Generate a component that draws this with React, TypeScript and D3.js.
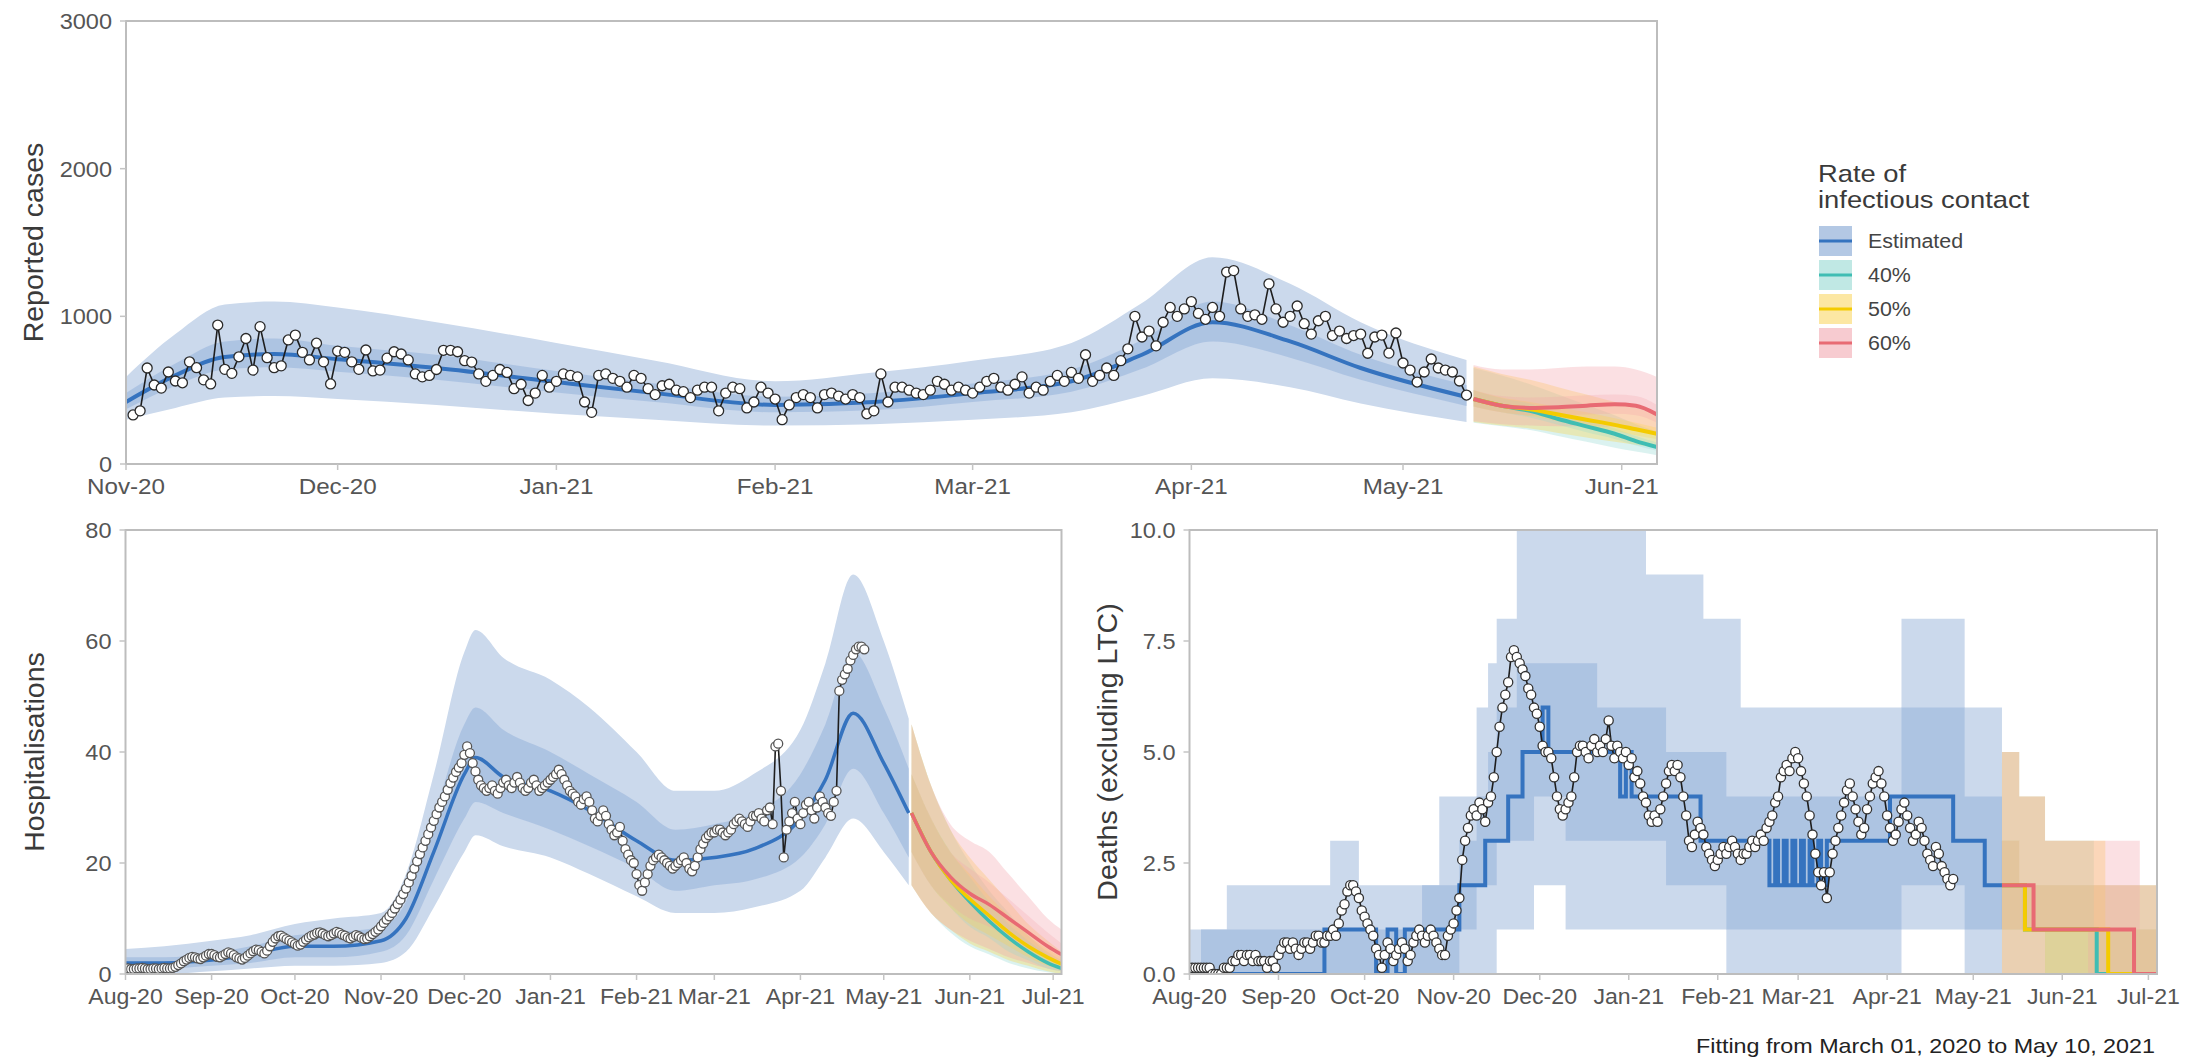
import React from "react";
import * as d3 from "d3";

// ---------------- DATA ----------------
const casesStart = "2020-11-02";
const casesObserved = [
  332, 360, 650, 535, 514, 623, 562, 550, 692, 652,
  570, 542, 941, 641, 614, 726, 850, 636, 930, 720,
  652, 665, 840, 873, 756, 705, 818, 692, 542, 765,
  756, 692, 641, 772, 630, 636, 717, 760,
  745, 705, 610, 590, 600, 640, 770,
  770, 760, 700, 690, 610, 560, 600,
  640, 620, 510, 540, 430, 480, 600, 520,
  560, 610, 600, 590, 420, 350, 600, 610, 580, 560,
  520, 600, 580, 510, 470, 530, 540, 500, 490, 450,
  500, 520, 520, 360, 480, 520, 510, 380, 420, 520, 480,
  440, 300, 400, 450, 470, 450, 380, 470, 480, 460,
  440, 470, 450, 340, 360, 610, 420, 520, 520, 500,
  480, 470, 500, 560, 540, 500, 520, 500,
  480, 520, 560, 580, 520, 500, 540, 590, 480, 520,
  500, 560, 600, 560, 620, 580, 740, 560, 600, 650,
  600, 700, 780, 1000, 860, 900, 800, 960, 1060, 1000, 1050,
  1100, 1020, 980, 1060, 1000, 1300, 1310, 1050, 1000, 1010,
  980, 1220, 1050, 960, 1000, 1070, 950, 880, 970, 1000,
  870, 900, 850, 870, 880, 750, 860,
  873, 751, 887, 684, 636, 555, 623, 711, 650, 636, 623, 562, 467,
];
const casesEstDates = ["2020-11-01", "2020-11-08", "2020-11-15", "2020-11-22", "2020-12-01", "2020-12-15", "2021-01-01", "2021-01-15", "2021-02-01", "2021-02-15", "2021-03-01", "2021-03-15", "2021-03-25", "2021-04-04", "2021-04-15", "2021-04-25", "2021-05-10"];
const casesEst = [420, 600, 725, 745, 710, 650, 555, 480, 400, 420, 480, 560, 740, 960, 830, 650, 454];
const casesHi95 = [590, 880, 1080, 1100, 1060, 960, 820, 700, 560, 620, 700, 820, 1090, 1400, 1220, 960, 704];
const casesLo95 = [300, 380, 450, 460, 440, 400, 340, 300, 260, 270, 300, 350, 460, 580, 520, 410, 284];
const casesHi50 = [480, 680, 830, 850, 800, 740, 630, 545, 455, 480, 545, 640, 840, 1100, 940, 740, 535];
const casesLo50 = [370, 530, 640, 655, 625, 570, 485, 420, 350, 365, 420, 490, 645, 830, 720, 570, 393];

const casesProjDates = ["2021-05-11", "2021-05-15", "2021-05-19", "2021-05-23", "2021-05-27", "2021-05-31", "2021-06-03", "2021-06-06"];
const cases40 = [440, 395, 360, 305, 255, 205, 155, 115];
const cases40Lo95 = [280, 255, 230, 190, 150, 110, 85, 60];
const cases40Hi95 = [650, 600, 540, 470, 400, 330, 270, 220];
const cases40Lo50 = [390, 350, 315, 265, 215, 170, 125, 90];
const cases40Hi50 = [500, 445, 410, 350, 295, 240, 190, 145];
const cases50 = [440, 395, 370, 335, 300, 265, 235, 205];
const cases50Lo95 = [285, 260, 240, 210, 180, 150, 130, 110];
const cases50Hi95 = [660, 610, 570, 520, 470, 420, 380, 340];
const cases50Lo50 = [390, 350, 325, 290, 255, 225, 195, 170];
const cases50Hi50 = [500, 450, 420, 385, 350, 310, 280, 245];
const cases60 = [440, 395, 380, 385, 395, 405, 395, 335];
const cases60Lo95 = [290, 270, 260, 255, 255, 250, 240, 200];
const cases60Hi95 = [670, 640, 640, 650, 660, 660, 640, 590];
const cases60Lo50 = [390, 350, 330, 330, 335, 340, 330, 280];
const cases60Hi50 = [500, 460, 450, 455, 465, 470, 460, 400];

const hospStart = "2020-08-01";
const hospObserved = [
  1.0, 1.0, 0.9, 0.9, 1.0, 1.0, 1.1, 1.0, 0.9, 0.9, 1.0, 1.0, 0.9, 1.0, 1.1, 1.0, 1.0, 1.1, 1.3, 1.6, 1.9, 2.3, 2.6, 2.9, 3.1, 3.0, 2.8, 2.7, 3.0, 3.3, 3.6,
  3.6, 3.4, 3.1, 3.0, 3.3, 3.6, 3.9, 3.7, 3.4, 3.0, 2.8, 2.6, 2.9, 3.3, 3.7, 4.1, 4.4, 4.3, 4.0, 3.7, 4.2, 5.0, 5.8, 6.4, 6.8, 6.9, 6.6, 6.3, 6.0, 5.7,
  5.4, 5.1, 5.3, 5.8, 6.2, 6.6, 6.9, 7.1, 7.4, 7.5, 7.3, 7.0, 6.8, 7.0, 7.3, 7.6, 7.4, 7.1, 6.9, 6.6, 6.4, 6.7, 7.0, 6.8, 6.5, 6.3, 6.4, 6.8, 7.2, 7.6, 8.0,
  8.6, 9.2, 9.8, 10.4, 11.0, 11.8, 12.6, 13.4, 14.4, 15.4, 16.5, 17.7, 19.0, 20.3, 21.6, 22.8, 24.0, 25.2, 26.4, 27.6, 28.8, 30.0, 31.0, 32.0, 33.2, 34.4, 35.4, 36.4, 37.2, 38.0,
  39.5, 41.0, 39.8, 38.0, 36.5, 35.0, 34.0, 33.5, 33.0, 33.5, 34.0, 33.0, 32.5, 33.5, 34.5, 35.0, 34.0, 33.5, 34.5, 35.5, 34.5, 33.5, 33.0, 33.5, 34.5, 35.0, 34.0, 33.0, 33.5, 34.0, 34.5,
  35.0, 35.5, 36.0, 36.8, 36.0, 35.0, 34.0, 33.0, 32.5, 32.0, 31.0, 30.5, 31.5, 32.0, 31.0, 29.5, 28.0, 27.5, 28.5, 29.5, 28.5, 27.0, 26.0, 25.0, 25.5, 26.5, 24.0, 22.5, 21.5, 20.5, 20.0,
  18.0, 16.0, 15.0, 16.5, 18.0, 19.5, 20.5, 21.0, 21.5, 21.0, 20.5, 20.0, 19.5, 19.0, 19.5, 20.0, 20.5, 21.0, 20.0, 19.0, 18.5, 19.5, 21.0, 22.5, 23.5, 24.5, 25.0, 25.5,
  25.5, 26.0, 26.0, 25.5, 25.0, 25.5, 26.0, 27.0, 27.5, 28.0, 27.5, 27.0, 26.5, 27.5, 28.5,
  28.5, 29.0, 28.0, 27.5, 29.5, 30.0, 27.0, 41.0, 41.5, 33.0, 21.0, 26.0, 27.5, 29.0, 31.0, 28.0,
  27.0, 29.0, 30.5, 31.0, 29.5, 28.0, 30.0, 32.0, 31.0, 30.0, 29.0, 28.5, 31.0, 33.0,
  51.0, 53.0, 54.0, 55.0, 56.5, 57.5, 58.5, 59.0, 59.0, 58.5,
];
const hospEstDates = ["2020-08-01", "2020-08-15", "2020-09-01", "2020-09-15", "2020-10-01", "2020-10-15", "2020-11-01", "2020-11-10", "2020-11-20", "2020-12-01", "2020-12-05", "2020-12-15", "2021-01-01", "2021-01-15", "2021-02-01", "2021-02-15", "2021-03-01", "2021-03-15", "2021-04-01", "2021-04-10", "2021-04-20", "2021-05-01", "2021-05-10"];
const hospEst = [2, 2, 2.5, 3.5, 5, 5, 6, 10, 22, 36, 39, 35.5, 33, 29.5, 24, 20.5, 21, 22.5, 28, 35, 47, 38, 29];
const hospHi95 = [4.5, 5, 6, 7, 9, 10, 11, 18, 36, 58, 62, 57, 53, 48, 40, 33, 33, 36, 44, 56, 72, 60, 46];
const hospLo95 = [0, 0, 0.5, 1, 1.5, 1.5, 2, 4, 12, 22, 25, 23, 21, 18, 14, 11, 11, 12, 15, 21, 28, 22, 16];
const hospHi50 = [3, 3, 3.8, 5, 7, 7.5, 8.5, 13, 28, 45, 48, 44, 40, 36, 31, 26, 27, 29, 36, 45, 58, 48, 37];
const hospLo50 = [1, 1, 1.5, 2, 3, 3, 4, 7, 17, 28, 31, 29, 26, 23, 19, 15, 16, 17, 21, 27, 37, 29, 21];

const hospProjDates = ["2021-05-11", "2021-05-18", "2021-05-25", "2021-06-01", "2021-06-08", "2021-06-15", "2021-06-22", "2021-06-29", "2021-07-04"];
const hosp40 = [29, 22, 17, 13, 9.5, 6.5, 4, 2, 1];
const hosp40Lo95 = [16, 11, 7.5, 5, 3.5, 2, 1, 0.3, 0];
const hosp40Hi95 = [45, 34, 26, 20, 15, 11, 7, 4, 2.5];
const hosp40Lo50 = [22, 16, 12, 8.5, 6.5, 4, 2.5, 1, 0.5];
const hosp40Hi50 = [36, 28, 22, 17.5, 13, 9, 6, 3.5, 2];
const hosp50 = [29, 22, 17, 13.5, 10.5, 7.5, 5, 3, 1.8];
const hosp50Lo95 = [16, 11, 8, 5.5, 4, 2.5, 1.5, 0.5, 0];
const hosp50Hi95 = [45, 34, 26, 21, 17, 13, 9, 6, 4];
const hosp50Lo50 = [22, 16, 12, 9, 7, 5, 3, 1.5, 1];
const hosp50Hi50 = [36, 28, 22, 18, 14, 10.5, 7, 4.5, 3];
const hosp60 = [29, 22, 17.5, 14.5, 12.5, 10, 7.5, 5, 3.5];
const hosp60Lo95 = [16, 11, 8, 6, 4.5, 3, 2, 1, 0.5];
const hosp60Hi95 = [45, 34, 27, 24, 22, 18, 14, 10, 8];
const hosp60Lo50 = [22, 16, 12.5, 10, 8.5, 6.5, 4.5, 3, 2];
const hosp60Hi50 = [36, 28, 22, 19, 16.5, 13.5, 10.5, 7.5, 5.5];

const deathsStart = "2020-08-01";
const deathsObserved = [
  0.14, 0.14, 0.14, 0.14, 0.14, 0.14, 0.14, 0.14, 0, 0, 0, 0, 0.14,
  0.14, 0.14, 0.29, 0.29, 0.43, 0.43, 0.29, 0.43, 0.43, 0.29, 0.43, 0.29, 0.29, 0.29, 0.14, 0.29, 0.29, 0.14,
  0.43, 0.57, 0.71, 0.71, 0.57, 0.71, 0.57, 0.43, 0.57, 0.71, 0.71, 0.57, 0.71, 0.86, 0.86, 0.71,
  0.71, 0.86, 0.86, 1.0, 0.86,
  1.14, 1.43, 1.57, 1.86, 2.0, 2.0, 1.86, 1.71, 1.43,
  1.29, 1.14, 1.0, 0.86, 0.57, 0.43, 0.14, 0.43, 0.71, 0.57,
  0.29, 0.43, 0.57, 0.71, 0.57, 0.29, 0.43, 0.71, 0.86, 1.0,
  0.86, 0.71, 0.86, 1.0, 0.86, 0.71, 0.57, 0.43, 0.43, 0.86, 1.0,
  1.14, 1.43, 1.71, 2.57, 3.0, 3.29, 3.57, 3.71, 3.57, 3.86,
  3.71, 3.43, 3.86, 4.0, 4.43, 5.0, 5.57, 6.0, 6.29, 6.57,
  7.14, 7.29, 7.14, 7.0, 6.86, 6.71, 6.43, 6.29, 6.0, 5.86,
  5.57, 5.14, 5.0, 5.0, 4.86, 4.43, 4.0, 3.71, 3.57, 3.71,
  3.86, 4.0, 4.43, 5.0, 5.14, 5.14, 5.0, 4.86, 5.14, 5.29,
  5.0, 5.14, 5.0, 5.29, 5.71, 5.14, 4.86, 5.14, 5.0, 4.86, 5.0,
  4.71, 4.86, 4.43, 4.57, 4.29, 4.0, 3.86, 3.57, 3.43, 3.57,
  3.43, 3.71, 4.0, 4.29, 4.57, 4.71, 4.57, 4.71, 4.43, 4.0,
  3.57, 3.0, 2.86, 3.14, 3.43, 3.29, 3.14, 2.86, 2.71, 2.57, 2.43,
  2.57, 2.71, 2.86, 2.71, 2.86, 3.0, 2.86, 2.71, 2.57, 2.71,
  2.71, 2.86, 3.0, 2.86, 3.0, 3.14, 3.0, 3.29, 3.43, 3.57,
  3.86, 4.0, 4.43, 4.57, 4.71, 4.57, 4.86, 5.0,
  4.86, 4.57, 4.29, 4.0, 3.57, 3.14, 2.71, 2.29, 2.0, 2.29,
  1.71, 2.29, 2.71, 3.0, 3.29, 3.57, 3.86, 4.14, 4.29,
  4.0, 3.71, 3.43, 3.14, 3.29, 3.71, 4.0, 4.29, 4.43, 4.57, 4.29, 4.0,
  3.57, 3.29, 3.0, 3.14, 3.43, 3.71, 3.86, 3.57, 3.29, 3.0, 3.14, 3.43,
  3.29, 3.0, 2.71, 2.57, 2.43, 2.86, 2.71, 2.43, 2.29, 2.14, 2.0, 2.14,
];
const deathsEstDates = ["2020-08-01", "2020-09-17", "2020-10-05", "2020-10-09", "2020-10-12", "2020-10-15", "2020-11-03", "2020-11-12", "2020-11-20", "2020-11-25", "2020-12-02", "2020-12-04", "2020-12-29", "2020-12-31", "2021-01-02", "2021-01-26", "2021-02-19", "2021-02-21", "2021-02-22", "2021-02-24", "2021-02-25", "2021-02-27", "2021-02-28", "2021-03-02", "2021-03-03", "2021-03-05", "2021-03-06", "2021-03-08", "2021-03-09", "2021-03-11", "2021-04-02", "2021-04-24", "2021-05-05", "2021-05-11"];
const deathsEst = [0, 1, 0, 1, 0, 1, 2, 3, 4, 5, 6, 5, 4, 5, 4, 3, 2, 3, 2, 3, 2, 3, 2, 3, 2, 3, 2, 3, 2, 3, 4, 3, 2, 2];
const deathsBandDates = ["2020-08-01", "2020-08-05", "2020-08-14", "2020-09-19", "2020-09-29", "2020-10-21", "2020-10-27", "2020-11-03", "2020-11-09", "2020-11-13", "2020-11-16", "2020-11-23", "2020-11-29", "2020-12-10", "2020-12-21", "2021-01-07", "2021-01-14", "2021-01-27", "2021-02-04", "2021-02-09", "2021-04-06", "2021-04-28", "2021-05-11"];
const deathsLo95 = [0, 0, 0, 0, 0, 0, 0, 0, 0, 0, 1, 1, 2, 1, 1, 1, 1, 1, 0, 0, 1, 0, 0];
const deathsHi95 = [1, 1, 2, 3, 2, 2, 4, 4, 6, 7, 8, 11, 11, 11, 11, 9, 9, 8, 8, 6, 8, 6, 6];
const deathsLo50 = [0, 0, 0, 0, 0, 0, 0, 1, 2, 2, 3, 3, 4, 3, 3, 3, 2, 2, 1, 1, 2, 1, 1];
const deathsHi50 = [0, 1, 1, 1, 1, 2, 2, 3, 4, 5, 6, 7, 7, 7, 6, 6, 5, 5, 4, 4, 6, 4, 4];

const deathsProj60Dates = ["2021-05-11", "2021-05-22", "2021-06-26", "2021-07-05"];
const deaths60 = [2, 1, 0, 0];
const deathsProj50Dates = ["2021-05-11", "2021-05-19", "2021-06-17", "2021-07-05"];
const deaths50 = [2, 1, 0, 0];
const deathsProj40Dates = ["2021-05-11", "2021-05-19", "2021-06-13", "2021-07-05"];
const deaths40 = [2, 1, 0, 0];
const dBand60Dates = ["2021-05-11", "2021-05-17", "2021-05-26", "2021-06-10", "2021-06-28", "2021-07-05"];
const d60Lo95 = [0, 0, 0, 0, 0, 0];
const d60Hi95 = [5, 4, 3, 3, 2, 2];
const d60Lo50 = [1, 1, 1, 0, 0, 0];
const d60Hi50 = [3, 2, 2, 2, 1, 1];
const dBand50Dates = ["2021-05-11", "2021-05-17", "2021-05-26", "2021-06-16", "2021-07-05"];
const d50Lo95 = [0, 0, 0, 0, 0];
const d50Hi95 = [5, 4, 3, 2, 2];
const d50Lo50 = [1, 1, 0, 0, 0];
const d50Hi50 = [3, 2, 2, 1, 1];
const dBand40Dates = ["2021-05-11", "2021-05-17", "2021-05-26", "2021-06-12", "2021-07-05"];
const d40Lo95 = [0, 0, 0, 0, 0];
const d40Hi95 = [5, 4, 3, 2, 2];
const d40Lo50 = [1, 1, 0, 0, 0];
const d40Hi50 = [3, 2, 2, 1, 1];

const topMonths = ["2020-11-01", "2020-12-01", "2021-01-01", "2021-02-01", "2021-03-01", "2021-04-01", "2021-05-01", "2021-06-01"];
const bottomMonths = ["2020-08-01", "2020-09-01", "2020-10-01", "2020-11-01", "2020-12-01", "2021-01-01", "2021-02-01", "2021-03-01", "2021-04-01", "2021-05-01", "2021-06-01", "2021-07-01"];
const casesTicks = [0, 1000, 2000, 3000];
const hospTicks = [0, 20, 40, 60, 80];
const deathsTicks = [0, 2.5, 5, 7.5, 10];

const legendTitle = ["Rate of", "infectious contact"];
const legendLabels = ["Estimated", "40%", "50%", "60%"];
const footnote = "Fitting from March 01, 2020 to May 10, 2021";

// ---------------- STYLE ----------------
const FONT = "'Liberation Sans', Arial, Helvetica, sans-serif";
const BLUE = "#3573BF";
const BLUE95 = "#CBD9EC";
const BLUE50 = "#A8C0E0";
const SCEN = {
  s40: { line: "#3FBDB3", fill: "#8FD6CF", key: "#C0E8E4" },
  s50: { line: "#F4CB00", fill: "#FFD23F", key: "#FCE7A3" },
  s60: { line: "#E86A73", fill: "#F4A0A8", key: "#F7CBD0" },
};

const D = (s: string) => new Date(s + "T00:00:00Z");

type Pt = { d: Date; v: number };
type BandPt = { d: Date; lo: number; hi: number };

const daily = (start: string, vals: number[]): Pt[] => vals.map((v, i) => ({ d: d3.utcDay.offset(D(start), i), v }));
const pts = (dates: string[], vals: number[]): Pt[] => dates.map((s, i) => ({ d: D(s), v: vals[i] }));
const band = (dates: string[], lo: number[], hi: number[]): BandPt[] => dates.map((s, i) => ({ d: D(s), lo: lo[i], hi: hi[i] }));

type Scales = { x: d3.ScaleTime<number, number>; y: d3.ScaleLinear<number, number> };

function areaPath(s: Scales, data: BandPt[], curve: d3.CurveFactory) {
  return d3
    .area<BandPt>()
    .x((p) => s.x(p.d))
    .y0((p) => s.y(p.lo))
    .y1((p) => s.y(p.hi))
    .curve(curve)(data) as string;
}
function linePath(s: Scales, data: Pt[], curve: d3.CurveFactory) {
  return d3
    .line<Pt>()
    .x((p) => s.x(p.d))
    .y((p) => s.y(p.v))
    .curve(curve)(data) as string;
}

const fmtMonth = d3.utcFormat("%b-%y");

function T({ x, y, sx = 1, anchor = "start", size, fill = "#555", dy, rotate, children }: { x: number; y: number; sx?: number; anchor?: string; size: number; fill?: string; dy?: string; rotate?: number; children: React.ReactNode }) {
  const tr = rotate ? `translate(${x},${y}) rotate(${rotate}) scale(${sx},1)` : `translate(${x},${y}) scale(${sx},1)`;
  return (
    <text transform={tr} textAnchor={anchor as any} fontSize={size} fill={fill} dy={dy} fontFamily={FONT}>
      {children}
    </text>
  );
}

function Frame({ s, id, xTicks, yTicks, yFmt, title, titleX, xsx }: { s: Scales; id: string; xTicks: string[]; yTicks: number[]; yFmt: (v: number) => string; title: string; titleX: number; xsx: number }) {
  const [x0, x1] = s.x.range();
  const [y0, y1] = s.y.range();
  return (
    <g>
      <rect x={x0} y={y1} width={x1 - x0} height={y0 - y1} fill="none" stroke="#BDBDBD" strokeWidth={2} />
      {yTicks.map((t) => (
        <g key={id + "y" + t}>
          <line x1={x0 - 6} x2={x0} y1={s.y(t)} y2={s.y(t)} stroke="#C4C4C4" strokeWidth={1.5} />
          <T x={x0 - 14} y={s.y(t)} dy="0.36em" anchor="end" size={22} sx={1.07}>
            {yFmt(t)}
          </T>
        </g>
      ))}
      {xTicks.map((t) => (
        <g key={id + "x" + t}>
          <line x1={s.x(D(t))} x2={s.x(D(t))} y1={y0} y2={y0 + 6} stroke="#C4C4C4" strokeWidth={1.5} />
          <T x={s.x(D(t))} y={y0 + 30} anchor="middle" size={22} sx={xsx}>
            {fmtMonth(D(t))}
          </T>
        </g>
      ))}
      <T x={titleX} y={(y0 + y1) / 2} rotate={-90} anchor="middle" dy="0.35em" size={28.5} fill="#3A3A3A">
        {title}
      </T>
    </g>
  );
}

function Observed({ s, data, r, stroke }: { s: Scales; data: Pt[]; r: number; stroke: string }) {
  return (
    <g>
      <path d={linePath(s, data, d3.curveLinear)} fill="none" stroke="#1E1E1E" strokeWidth={1.6} />
      {data.map((p, i) => (
        <circle key={i} cx={s.x(p.d)} cy={s.y(p.v)} r={r} fill="#FFFFFF" stroke={stroke} strokeWidth={1.3} />
      ))}
    </g>
  );
}

export default function App() {
  const top: Scales = {
    x: d3.scaleUtc().domain([D("2020-11-01"), D("2021-06-06")]).range([126, 1657]),
    y: d3.scaleLinear().domain([0, 3000]).range([464, 21]),
  };
  const bl: Scales = {
    x: d3.scaleUtc().domain([D("2020-08-01"), D("2021-07-04")]).range([125.5, 1061.5]),
    y: d3.scaleLinear().domain([0, 80]).range([974, 530]),
  };
  const br: Scales = {
    x: d3.scaleUtc().domain([D("2020-08-01"), D("2021-07-04")]).range([1189.5, 2157]),
    y: d3.scaleLinear().domain([0, 10]).range([974, 530]),
  };

  const mono = d3.curveMonotoneX;
  const step = d3.curveStepAfter;

  const proj = (
    s: Scales,
    dates: string[],
    sets: { key: keyof typeof SCEN; lo95: number[]; hi95: number[]; lo50: number[]; hi50: number[] }[],
    curve: d3.CurveFactory,
    op: number
  ) => (
    <g>
      {sets.map((k) => (
        <path key={k.key + "95"} d={areaPath(s, band(dates, k.lo95, k.hi95), curve)} fill={SCEN[k.key].fill} opacity={op} />
      ))}
      {sets.map((k) => (
        <path key={k.key + "50"} d={areaPath(s, band(dates, k.lo50, k.hi50), curve)} fill={SCEN[k.key].fill} opacity={op * 0.8} />
      ))}
    </g>
  );

  const clip = (id: string, s: Scales) => {
    const [x0, x1] = s.x.range();
    const [y0, y1] = s.y.range();
    return (
      <clipPath id={id}>
        <rect x={x0} y={y1} width={x1 - x0} height={y0 - y1} />
      </clipPath>
    );
  };

  return (
    <svg width={2201} height={1060} style={{ display: "block", position: "absolute", left: 0, top: 0, background: "#fff" }}>
      <defs>
        {clip("cTop", top)}
        {clip("cBl", bl)}
        {clip("cBr", br)}
      </defs>
      <rect x={0} y={0} width={2201} height={1060} fill="#fff" />

      {/* ---------- TOP: reported cases ---------- */}
      <g clipPath="url(#cTop)">
        <path d={areaPath(top, band(casesEstDates, casesLo95, casesHi95), mono)} fill={BLUE95} />
        <path d={areaPath(top, band(casesEstDates, casesLo50, casesHi50), mono)} fill={BLUE50} opacity={0.85} />
        {proj(
          top,
          casesProjDates,
          [
            { key: "s40", lo95: cases40Lo95, hi95: cases40Hi95, lo50: cases40Lo50, hi50: cases40Hi50 },
            { key: "s50", lo95: cases50Lo95, hi95: cases50Hi95, lo50: cases50Lo50, hi50: cases50Hi50 },
            { key: "s60", lo95: cases60Lo95, hi95: cases60Hi95, lo50: cases60Lo50, hi50: cases60Hi50 },
          ],
          mono,
          0.32
        )}
        <path d={linePath(top, pts(casesEstDates, casesEst), mono)} fill="none" stroke={BLUE} strokeWidth={4} />
        <path d={linePath(top, pts(casesProjDates, cases40), mono)} fill="none" stroke={SCEN.s40.line} strokeWidth={4} />
        <path d={linePath(top, pts(casesProjDates, cases50), mono)} fill="none" stroke={SCEN.s50.line} strokeWidth={4} />
        <path d={linePath(top, pts(casesProjDates, cases60), mono)} fill="none" stroke={SCEN.s60.line} strokeWidth={4} />
        <Observed s={top} data={daily(casesStart, casesObserved)} r={5} stroke="#2A2A2A" />
      </g>
      <Frame s={top} id="t" xTicks={topMonths} yTicks={casesTicks} yFmt={d3.format("d")} title="Reported cases" titleX={33} xsx={1.1} />

      {/* ---------- BOTTOM LEFT: hospitalisations ---------- */}
      <g clipPath="url(#cBl)">
        <path d={areaPath(bl, band(hospEstDates, hospLo95, hospHi95), mono)} fill={BLUE95} />
        <path d={areaPath(bl, band(hospEstDates, hospLo50, hospHi50), mono)} fill={BLUE50} opacity={0.85} />
        {proj(
          bl,
          hospProjDates,
          [
            { key: "s40", lo95: hosp40Lo95, hi95: hosp40Hi95, lo50: hosp40Lo50, hi50: hosp40Hi50 },
            { key: "s50", lo95: hosp50Lo95, hi95: hosp50Hi95, lo50: hosp50Lo50, hi50: hosp50Hi50 },
            { key: "s60", lo95: hosp60Lo95, hi95: hosp60Hi95, lo50: hosp60Lo50, hi50: hosp60Hi50 },
          ],
          mono,
          0.32
        )}
        <path d={linePath(bl, pts(hospEstDates, hospEst), mono)} fill="none" stroke={BLUE} strokeWidth={3.5} />
        <path d={linePath(bl, pts(hospProjDates, hosp40), mono)} fill="none" stroke={SCEN.s40.line} strokeWidth={3.5} />
        <path d={linePath(bl, pts(hospProjDates, hosp50), mono)} fill="none" stroke={SCEN.s50.line} strokeWidth={3.5} />
        <path d={linePath(bl, pts(hospProjDates, hosp60), mono)} fill="none" stroke={SCEN.s60.line} strokeWidth={3.5} />
        <Observed s={bl} data={daily(hospStart, hospObserved)} r={4.5} stroke="#555" />
      </g>
      <Frame s={bl} id="l" xTicks={bottomMonths} yTicks={hospTicks} yFmt={d3.format("d")} title="Hospitalisations" titleX={34} xsx={1.05} />

      {/* ---------- BOTTOM RIGHT: deaths ---------- */}
      <g clipPath="url(#cBr)">
        <path d={areaPath(br, band(deathsBandDates, deathsLo95, deathsHi95), step)} fill={BLUE95} />
        <path d={areaPath(br, band(deathsBandDates, deathsLo50, deathsHi50), step)} fill={BLUE50} opacity={0.85} />
        <g>
          <path d={areaPath(br, band(dBand40Dates, d40Lo95, d40Hi95), step)} fill={SCEN.s40.fill} opacity={0.32} />
          <path d={areaPath(br, band(dBand50Dates, d50Lo95, d50Hi95), step)} fill={SCEN.s50.fill} opacity={0.32} />
          <path d={areaPath(br, band(dBand60Dates, d60Lo95, d60Hi95), step)} fill={SCEN.s60.fill} opacity={0.32} />
          <path d={areaPath(br, band(dBand40Dates, d40Lo50, d40Hi50), step)} fill={SCEN.s40.fill} opacity={0.25} />
          <path d={areaPath(br, band(dBand50Dates, d50Lo50, d50Hi50), step)} fill={SCEN.s50.fill} opacity={0.25} />
          <path d={areaPath(br, band(dBand60Dates, d60Lo50, d60Hi50), step)} fill={SCEN.s60.fill} opacity={0.25} />
        </g>
        <path d={linePath(br, pts(deathsEstDates, deathsEst), step)} fill="none" stroke={BLUE} strokeWidth={4} />
        <path d={linePath(br, pts(deathsProj40Dates, deaths40), step)} fill="none" stroke={SCEN.s40.line} strokeWidth={4} />
        <path d={linePath(br, pts(deathsProj50Dates, deaths50), step)} fill="none" stroke={SCEN.s50.line} strokeWidth={4} />
        <path d={linePath(br, pts(deathsProj60Dates, deaths60), step)} fill="none" stroke={SCEN.s60.line} strokeWidth={4} />
        <Observed s={br} data={daily(deathsStart, deathsObserved)} r={4.6} stroke="#333" />
      </g>
      <Frame s={br} id="r" xTicks={bottomMonths} yTicks={deathsTicks} yFmt={d3.format(".1f")} title="Deaths (excluding LTC)" titleX={1107} xsx={1.05} />

      {/* ---------- LEGEND ---------- */}
      <g>
        {legendTitle.map((t, i) => (
          <T key={t} x={1818} y={182 + i * 26} size={24} sx={1.14} fill="#3A3A3A">
            {t}
          </T>
        ))}
        {legendLabels.map((lab, i) => {
          const fill = i === 0 ? "#B3C8E4" : [SCEN.s40.key, SCEN.s50.key, SCEN.s60.key][i - 1];
          const line = i === 0 ? BLUE : [SCEN.s40.line, SCEN.s50.line, SCEN.s60.line][i - 1];
          const y = 226 + i * 34;
          return (
            <g key={lab}>
              <rect x={1819} y={y} width={33} height={30} fill={fill} />
              <line x1={1819} x2={1852} y1={y + 15} y2={y + 15} stroke={line} strokeWidth={3} />
              <T x={1868} y={y + 15} dy="0.36em" size={20} sx={1.07} fill="#444">
                {lab}
              </T>
            </g>
          );
        })}
      </g>

      <text x={2155} y={1053} textAnchor="end" fontSize={21} fill="#222" fontFamily={FONT} textLength={459} lengthAdjust="spacingAndGlyphs">
        {footnote}
      </text>
    </svg>
  );
}
